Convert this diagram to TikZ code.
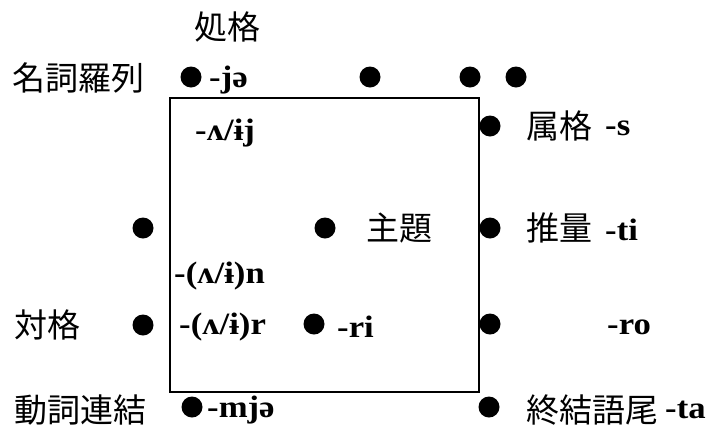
\documentclass[tikz,border=0pt]{standalone}
\usepackage{fontspec}
\setmainfont{Liberation Serif}
\newfontfamily\latn[FakeStretch=1.12]{Liberation Serif}
\newfontfamily\jp{Noto Sans CJK JP}
\begin{document}
\begin{tikzpicture}[x=1pt,y=-1pt,
  dot/.style={circle,fill=black,inner sep=0pt,minimum size=21pt},
  jl/.style={font=\jp\fontsize{33}{35}\selectfont,inner sep=0pt},
  lt/.style={font=\latn\bfseries\fontsize{31}{33}\selectfont,inner sep=0pt},
  box/.style={draw=black,line width=1.6pt}]
\useasboundingbox (0,0) rectangle (721,432);
\draw[box] (170,98) rectangle (479,392);
% top row
\node[jl] (loc) at (227,27) {処格};
\node[jl,anchor=west] (nl) at (12,78) {名詞羅列};
\node[dot] (d1) at (191,77) {};
\node[lt,anchor=west] (je) at (209,80) {-jə};
\node[dot] (d2) at (370,77) {};
\node[dot] (d3) at (470,77) {};
\node[dot] (d4) at (516,77) {};
\node[lt,anchor=west] (aij) at (195,133) {-ʌ/ɨj};
% genitive
\node[dot] (d5) at (490,126) {};
\node[jl,anchor=west] (gen) at (526,126) {属格};
\node[lt,anchor=west] (s) at (605,128) {-s};
% middle row
\node[dot] (d6) at (143,228) {};
\node[dot] (d7) at (325,228) {};
\node[jl,anchor=west] (top) at (366,228) {主題};
\node[dot] (d8) at (490,228) {};
\node[jl,anchor=west] (sup) at (526,228) {推量};
\node[lt,anchor=west] (ti) at (605,230) {-ti};
\node[lt,anchor=west] (an) at (174,276) {-(ʌ/ɨ)n};
% accusative row
\node[jl,anchor=west] (acc) at (14,325) {対格};
\node[dot] (d9) at (143,325) {};
\node[lt,anchor=west] (ar) at (179,327) {-(ʌ/ɨ)r};
\node[dot] (d10) at (314,324) {};
\node[lt,anchor=west] (ri) at (337,327) {-ri};
\node[dot] (d11) at (490,324) {};
\node[lt,anchor=west] (ro) at (607,327) {-ro};
% bottom row
\node[jl,anchor=west] (vc) at (14,410) {動詞連結};
\node[dot] (d12) at (192,407) {};
\node[lt,anchor=west] (mje) at (207,410) {-mjə};
\node[dot] (d13) at (489,407) {};
\node[jl,anchor=west] (fin) at (526,410) {終結語尾};
\node[lt,anchor=west] (ta) at (665,410) {-ta};
\end{tikzpicture}
\end{document}
